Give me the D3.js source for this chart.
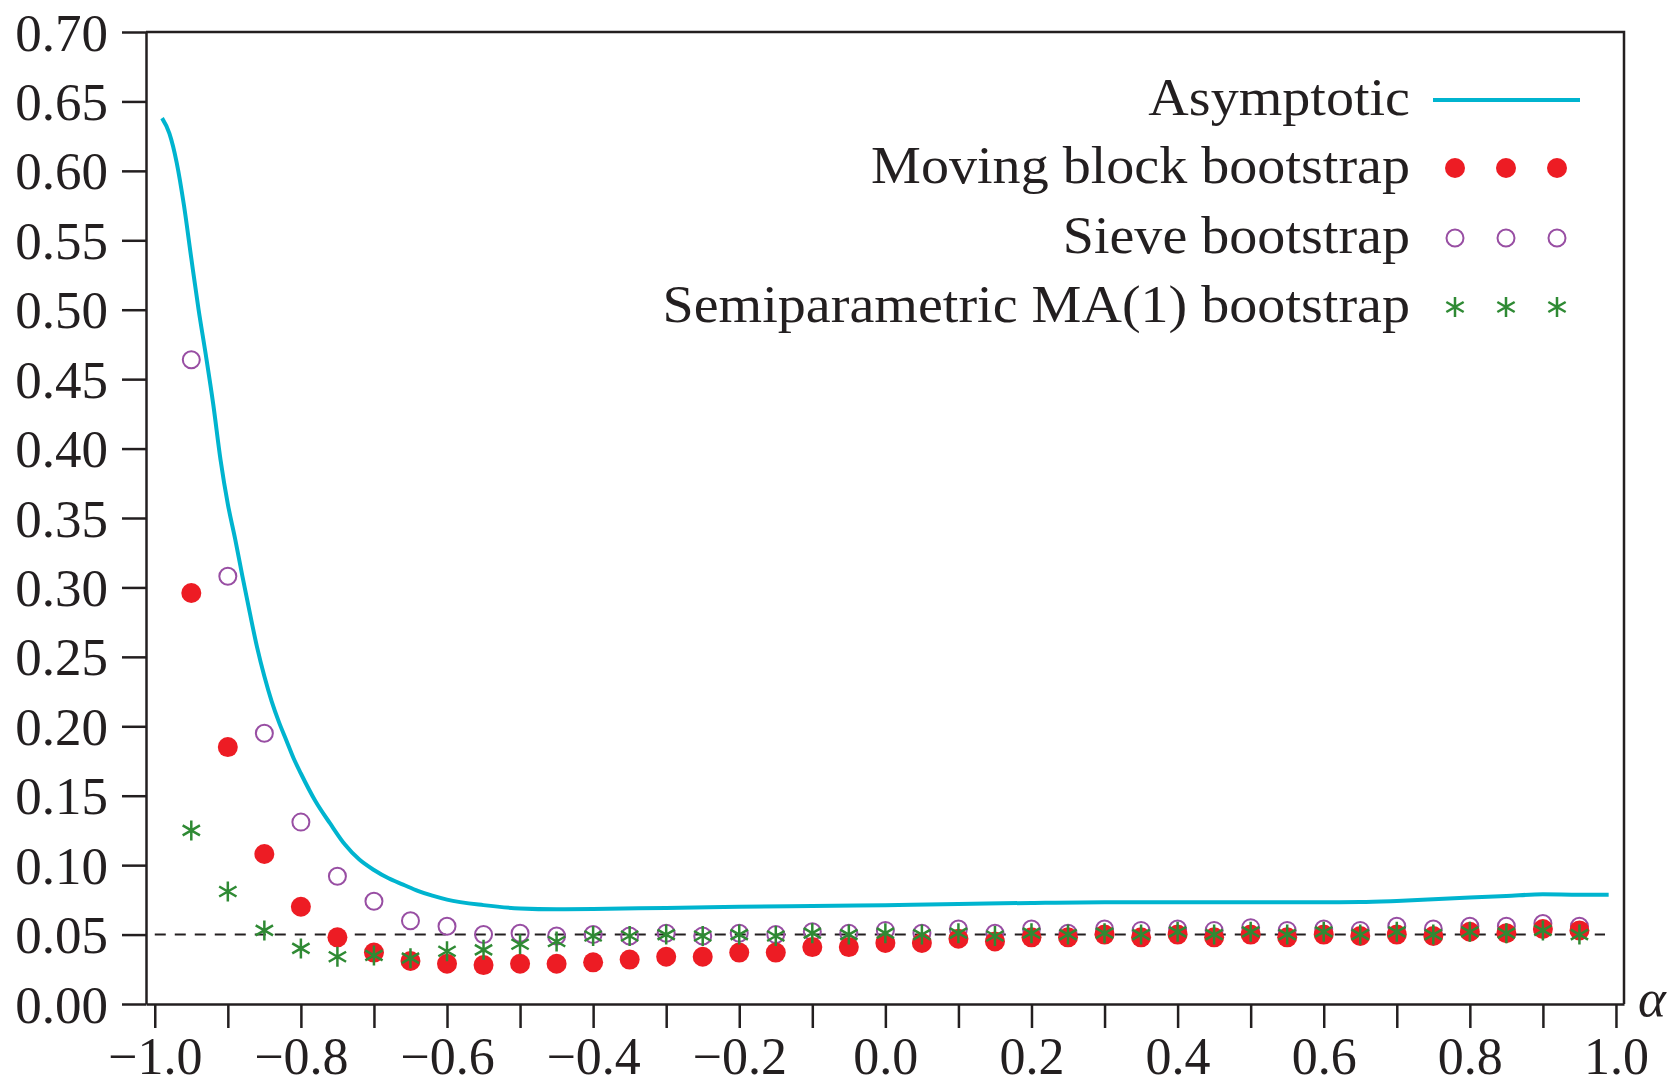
<!DOCTYPE html>
<html>
<head>
<meta charset="utf-8">
<script src="https://cdn.jsdelivr.net/npm/d3@7/dist/d3.min.js"></script>
<style>
  body { margin: 0; background: #fff; }
  #chart text { font-family: "Liberation Serif", "DejaVu Serif", serif; fill: #231f20; }
  #chart .axis path, #chart .axis line { stroke: #231f20; stroke-width: 2.5px; }
</style>
</head>
<body>
<div id="chart"></div>
<script>
// rejection rates against alpha
const alphas = [-0.95, -0.90, -0.85, -0.80, -0.75, -0.70, -0.65, -0.60, -0.55, -0.50,
  -0.45, -0.40, -0.35, -0.30, -0.25, -0.20, -0.15, -0.10, -0.05, 0.00,
  0.05, 0.10, 0.15, 0.20, 0.25, 0.30, 0.35, 0.40, 0.45, 0.50,
  0.55, 0.60, 0.65, 0.70, 0.75, 0.80, 0.85, 0.90, 0.95];

const movingBlock = [0.296, 0.185, 0.108, 0.070, 0.048, 0.037, 0.031, 0.029, 0.028, 0.029,
  0.029, 0.030, 0.032, 0.034, 0.034, 0.037, 0.037, 0.041, 0.041, 0.044,
  0.044, 0.047, 0.045, 0.048, 0.048, 0.050, 0.048, 0.050, 0.048, 0.050,
  0.048, 0.050, 0.049, 0.050, 0.049, 0.052, 0.051, 0.054, 0.053];

const sieve = [0.464, 0.308, 0.195, 0.131, 0.092, 0.074, 0.060, 0.056, 0.050, 0.051,
  0.049, 0.050, 0.049, 0.051, 0.049, 0.051, 0.050, 0.052, 0.051, 0.053,
  0.051, 0.054, 0.051, 0.054, 0.051, 0.054, 0.053, 0.054, 0.053, 0.055,
  0.053, 0.054, 0.053, 0.056, 0.054, 0.056, 0.056, 0.058, 0.056];

const semiparametric = [0.125, 0.081, 0.053, 0.040, 0.034, 0.035, 0.033, 0.038, 0.039, 0.043,
  0.045, 0.049, 0.049, 0.050, 0.049, 0.050, 0.049, 0.051, 0.050, 0.051,
  0.050, 0.051, 0.049, 0.051, 0.050, 0.051, 0.050, 0.052, 0.050, 0.052,
  0.050, 0.052, 0.050, 0.052, 0.050, 0.052, 0.051, 0.053, 0.050];

const asymAlphas = [-0.99, -0.98, -0.97, -0.96, -0.95, -0.94, -0.93, -0.92, -0.91, -0.90,
  -0.89, -0.88, -0.87, -0.86, -0.85, -0.84, -0.83, -0.82, -0.81, -0.80,
  -0.78, -0.76, -0.74, -0.72, -0.70, -0.68, -0.66, -0.64, -0.62, -0.60,
  -0.55, -0.50, -0.45, -0.40, -0.30, -0.20, -0.10, 0.00, 0.10, 0.20,
  0.30, 0.40, 0.50, 0.60, 0.65, 0.70, 0.75, 0.80, 0.85, 0.90, 0.95, 0.99];

const asymptotic = [0.638, 0.627, 0.606, 0.575, 0.537, 0.500, 0.467, 0.432, 0.392, 0.360,
  0.335, 0.308, 0.282, 0.257, 0.236, 0.218, 0.203, 0.190, 0.177, 0.166,
  0.146, 0.130, 0.115, 0.104, 0.0965, 0.0905, 0.0860, 0.0815, 0.0780, 0.0752,
  0.0712, 0.0688, 0.0682, 0.0684, 0.0692, 0.0700, 0.0706, 0.0712, 0.0720, 0.0728,
  0.0733, 0.0733, 0.0733, 0.0733, 0.0734, 0.0742, 0.0754, 0.0767, 0.0778, 0.0790, 0.0787, 0.0787];

const nominalLevel = 0.05;

const yTickValues = [0.00, 0.05, 0.10, 0.15, 0.20, 0.25, 0.30, 0.35, 0.40, 0.45, 0.50, 0.55, 0.60, 0.65, 0.70];
const xTickValues = [-1.0, -0.9, -0.8, -0.7, -0.6, -0.5, -0.4, -0.3, -0.2, -0.1, 0.0,
  0.1, 0.2, 0.3, 0.4, 0.5, 0.6, 0.7, 0.8, 0.9, 1.0];
const xLabelValues = [-1.0, -0.8, -0.6, -0.4, -0.2, 0.0, 0.2, 0.4, 0.6, 0.8, 1.0];

const legendLabels = ["Asymptotic", "Moving block bootstrap", "Sieve bootstrap", "Semiparametric MA(1) bootstrap"];

const width = 1675, height = 1085;
const plotLeft = 146, plotRight = 1624, plotTop = 32, plotBottom = 1004;
const fontSize = 53;
const colors = { asym: "#00b4cf", mbb: "#ed1c24", sieve: "#984ea3", semi: "#2f8a34" };

const x = d3.scaleLinear().domain([-1.012, 1.011]).range([plotLeft, plotRight]);
const y = d3.scaleLinear().domain([0, 0.70]).range([plotBottom, plotTop]);

const svg = d3.select("#chart").append("svg")
  .attr("width", width)
  .attr("height", height);

const fmtX = d3.format(".1f");
function xLabel(d) {
  if (!xLabelValues.some(v => Math.abs(v - d) < 1e-9)) return "";
  return fmtX(d).replace("-", "\u2212");
}

// frame: top and right edges
svg.append("path")
  .attr("d", `M${plotLeft},${plotTop}H${plotRight}V${plotBottom}`)
  .attr("fill", "none")
  .attr("stroke", "#231f20")
  .attr("stroke-width", 2.5);

const yAxis = svg.append("g")
  .attr("class", "axis")
  .attr("transform", `translate(${plotLeft},0)`)
  .call(d3.axisLeft(y).tickValues(yTickValues).tickFormat(d3.format(".2f"))
    .tickSize(24).tickPadding(14).tickSizeOuter(0));
yAxis.selectAll("text").attr("font-size", fontSize).attr("dy", "0.34em");

const xAxis = svg.append("g")
  .attr("class", "axis")
  .attr("transform", `translate(0,${plotBottom})`)
  .call(d3.axisBottom(x).tickValues(xTickValues).tickFormat(xLabel)
    .tickSize(24).tickPadding(9).tickSizeOuter(0));
xAxis.selectAll("text").attr("font-size", 52);

svg.append("text")
  .attr("x", plotRight + 14)
  .attr("y", plotBottom + 12)
  .attr("font-size", fontSize)
  .attr("font-style", "italic")
  .text("\u03b1");

// nominal level
svg.append("line")
  .attr("x1", x(-1.0)).attr("x2", x(0.985))
  .attr("y1", y(nominalLevel)).attr("y2", y(nominalLevel))
  .attr("stroke", "#231f20")
  .attr("stroke-width", 2)
  .attr("stroke-dasharray", "11,9");

const asymLine = d3.line()
  .x((d, i) => x(asymAlphas[i]))
  .y(d => y(d))
  .curve(d3.curveMonotoneX);

svg.append("path")
  .datum(asymptotic)
  .attr("fill", "none")
  .attr("stroke", colors.asym)
  .attr("stroke-width", 4)
  .attr("d", asymLine);

// markers
const starR = 10;
function starPath(r) {
  const c = r * Math.cos(Math.PI / 6), s = r * Math.sin(Math.PI / 6);
  return `M0,${-r}L0,${r}M${-c},${-s}L${c},${s}M${-c},${s}L${c},${-s}`;
}

svg.append("g").selectAll("circle")
  .data(sieve)
  .join("circle")
  .attr("cx", (d, i) => x(alphas[i]))
  .attr("cy", d => y(d))
  .attr("r", 8.5)
  .attr("fill", "none")
  .attr("stroke", colors.sieve)
  .attr("stroke-width", 2);

svg.append("g").selectAll("circle")
  .data(movingBlock)
  .join("circle")
  .attr("cx", (d, i) => x(alphas[i]))
  .attr("cy", d => y(d))
  .attr("r", 10)
  .attr("fill", colors.mbb);

svg.append("g").selectAll("path")
  .data(semiparametric)
  .join("path")
  .attr("transform", (d, i) => `translate(${x(alphas[i])},${y(d)})`)
  .attr("d", starPath(starR))
  .attr("fill", "none")
  .attr("stroke", colors.semi)
  .attr("stroke-width", 2.5);

// legend
const legend = svg.append("g");
const rowY = [100, 168, 238, 307];
const textRight = 1410;
const markerX = [1455, 1506, 1557];

legendLabels.forEach(function (label, i) {
  const t = legend.append("text")
    .attr("x", textRight)
    .attr("y", rowY[i] + 15)
    .attr("text-anchor", "end")
    .attr("font-size", fontSize)
    .text(label);
  // the original face runs a little wider than Liberation Serif
  const w = t.node().getComputedTextLength();
  t.attr("textLength", w * 1.058).attr("lengthAdjust", "spacingAndGlyphs");
});

legend.append("line")
  .attr("x1", 1433).attr("x2", 1580)
  .attr("y1", rowY[0]).attr("y2", rowY[0])
  .attr("stroke", colors.asym)
  .attr("stroke-width", 4);

markerX.forEach(function (mx) {
  legend.append("circle")
    .attr("cx", mx).attr("cy", rowY[1]).attr("r", 10)
    .attr("fill", colors.mbb);
  legend.append("circle")
    .attr("cx", mx).attr("cy", rowY[2]).attr("r", 8.5)
    .attr("fill", "none")
    .attr("stroke", colors.sieve)
    .attr("stroke-width", 2);
  legend.append("path")
    .attr("transform", `translate(${mx},${rowY[3]})`)
    .attr("d", starPath(starR))
    .attr("fill", "none")
    .attr("stroke", colors.semi)
    .attr("stroke-width", 2.5);
});
</script>
</body>
</html>
